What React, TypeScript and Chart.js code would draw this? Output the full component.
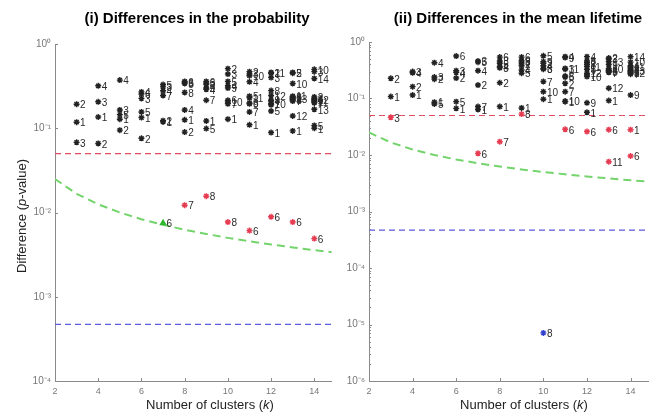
import React, { useEffect, useRef } from 'react';
import { Chart, registerables } from 'chart.js';
Chart.register(...registerables);

type Pt = [number, number, string];

// ---------- data ----------
const kRange = [2, 14.8];
const xTickValues = [2, 4, 6, 8, 10, 12, 14];
const greenK = [2, 3, 4, 5, 6, 7, 8, 9, 10, 11, 12, 13, 14, 15];
const greenP = [0.025, 0.01667, 0.0125, 0.01, 0.00833, 0.00714, 0.00625, 0.00556, 0.005, 0.00455, 0.00417, 0.00385, 0.00357, 0.00333];
const alphaLevel = 0.05;
const strictLevel = 0.00047;

const leftYTicks = [1, 0.1, 0.01, 0.001, 0.0001];
const leftYTickLabels = ['10⁰', '10⁻¹', '10⁻²', '10⁻³', '10⁻⁴'];
const rightYTicks = [1, 0.1, 0.01, 0.001, 0.0001, 0.00001, 0.000001];
const rightYTickLabels = ['10⁰', '10⁻¹', '10⁻²', '10⁻³', '10⁻⁴', '10⁻⁵', '10⁻⁶'];

const leftBlack: Pt[] = [
  [3, 0.193, '2'], [3, 0.118, '1'], [3, 0.068, '3'],
  [4, 0.319, '4'], [4, 0.206, '3'], [4, 0.136, '1'], [4, 0.066, '2'],
  [5, 0.373, '4'], [5, 0.165, '3'], [5, 0.145, '5'], [5, 0.128, '1'], [5, 0.095, '2'],
  [6, 0.27, '4'], [6, 0.255, '6'], [6, 0.226, '3'], [6, 0.156, '5'], [6, 0.134, '1'], [6, 0.076, '2'],
  [7, 0.33, '5'], [7, 0.31, '3'], [7, 0.279, '4'], [7, 0.245, '7'], [7, 0.123, '2'], [7, 0.119, '1'],
  [8, 0.36, '6'], [8, 0.35, '3'], [8, 0.34, '5'], [8, 0.266, '8'], [8, 0.165, '4'], [8, 0.126, '1'], [8, 0.09, '2'],
  [9, 0.36, '6'], [9, 0.345, '3'], [9, 0.33, '2'], [9, 0.3, '9'], [9, 0.29, '4'], [9, 0.215, '7'], [9, 0.122, '1'], [9, 0.099, '5'],
  [10, 0.51, '2'], [10, 0.44, '3'], [10, 0.36, '5'], [10, 0.32, '4'], [10, 0.3, '9'], [10, 0.215, '6'], [10, 0.205, '10'], [10, 0.195, '7'], [10, 0.128, '1'],
  [11, 0.47, '2'], [11, 0.44, '3'], [11, 0.42, '10'], [11, 0.356, '4'], [11, 0.24, '5'], [11, 0.23, '11'], [11, 0.2, '8'], [11, 0.195, '9'], [11, 0.156, '7'], [11, 0.11, '1'],
  [12, 0.46, '2'], [12, 0.45, '11'], [12, 0.4, '3'], [12, 0.28, '8'], [12, 0.245, '12'], [12, 0.215, '9'], [12, 0.21, '4'], [12, 0.195, '10'], [12, 0.19, '7'], [12, 0.16, '5'], [12, 0.089, '1'],
  [13, 0.46, '2'], [13, 0.45, '5'], [13, 0.34, '10'], [13, 0.24, '11'], [13, 0.235, '8'], [13, 0.23, '9'], [13, 0.225, '13'], [13, 0.22, '4'], [13, 0.215, '3'], [13, 0.21, '7'], [13, 0.14, '12'], [13, 0.093, '1'],
  [14, 0.5, '10'], [14, 0.47, '3'], [14, 0.39, '14'], [14, 0.235, '2'], [14, 0.225, '8'], [14, 0.22, '12'], [14, 0.215, '4'], [14, 0.21, '9'], [14, 0.205, '11'], [14, 0.2, '7'], [14, 0.168, '13'], [14, 0.108, '5'], [14, 0.1, '1'],
];
const leftRed: Pt[] = [
  [8, 0.0122, '7'], [9, 0.0156, '8'], [10, 0.0077, '8'], [11, 0.0061, '6'], [12, 0.0089, '6'], [13, 0.0077, '6'], [14, 0.0049, '6'],
];
const leftGreen: Pt[] = [[7, 0.0075, '6']];

const rightBlack: Pt[] = [
  [3, 0.228, '2'], [3, 0.108, '1'],
  [4, 0.3, '3'], [4, 0.285, '4'], [4, 0.162, '2'], [4, 0.115, '1'],
  [5, 0.43, '4'], [5, 0.24, '3'], [5, 0.22, '2'], [5, 0.086, '1'], [5, 0.08, '5'],
  [6, 0.565, '6'], [6, 0.31, '3'], [6, 0.29, '4'], [6, 0.23, '2'], [6, 0.088, '5'], [6, 0.067, '1'],
  [7, 0.46, '3'], [7, 0.44, '5'], [7, 0.31, '4'], [7, 0.173, '2'], [7, 0.072, '7'], [7, 0.064, '1'],
  [8, 0.54, '6'], [8, 0.46, '3'], [8, 0.42, '5'], [8, 0.37, '4'], [8, 0.35, '8'], [8, 0.19, '2'], [8, 0.072, '1'],
  [9, 0.54, '6'], [9, 0.47, '9'], [9, 0.44, '3'], [9, 0.41, '2'], [9, 0.38, '7'], [9, 0.32, '4'], [9, 0.28, '5'], [9, 0.068, '1'],
  [10, 0.57, '5'], [10, 0.45, '9'], [10, 0.42, '2'], [10, 0.38, '4'], [10, 0.34, '6'], [10, 0.33, '3'], [10, 0.2, '7'], [10, 0.132, '10'], [10, 0.097, '1'],
  [11, 0.55, '4'], [11, 0.53, '9'], [11, 0.34, '3'], [11, 0.33, '11'], [11, 0.25, '8'], [11, 0.24, '5'], [11, 0.186, '2'], [11, 0.132, '7'], [11, 0.09, '10'], [11, 0.088, '1'],
  [12, 0.55, '4'], [12, 0.46, '8'], [12, 0.43, '2'], [12, 0.4, '3'], [12, 0.37, '11'], [12, 0.33, '5'], [12, 0.28, '12'], [12, 0.26, '7'], [12, 0.245, '10'], [12, 0.084, '9'], [12, 0.057, '1'],
  [13, 0.52, '2'], [13, 0.5, '3'], [13, 0.45, '13'], [13, 0.4, '9'], [13, 0.34, '10'], [13, 0.32, '4'], [13, 0.31, '8'], [13, 0.3, '5'], [13, 0.29, '7'], [13, 0.152, '12'], [13, 0.092, '1'],
  [14, 0.55, '14'], [14, 0.44, '10'], [14, 0.38, '4'], [14, 0.36, '11'], [14, 0.34, '2'], [14, 0.32, '8'], [14, 0.31, '13'], [14, 0.3, '3'], [14, 0.29, '5'], [14, 0.28, '12'], [14, 0.27, '7'], [14, 0.115, '9'],
];
const rightRed: Pt[] = [
  [3, 0.0465, '3'], [7, 0.0107, '6'], [8, 0.0172, '7'], [9, 0.053, '8'], [11, 0.0285, '6'], [12, 0.026, '6'],
  [13, 0.028, '6'], [13, 0.0076, '11'], [14, 0.028, '1'], [14, 0.0096, '6'],
];
const rightBlue: Pt[] = [[10, 0.0000071, '8']];

// ---------- helpers ----------
const FONT = '"Liberation Sans", Arial, sans-serif';

function pointSet(list: Pt[], color: string, style: string, fill: string, radius: number) {
  return {
    type: 'scatter',
    data: list.map((p) => ({ x: p[0], y: p[1] })),
    pointStyle: style,
    pointRadius: radius,
    pointHoverRadius: radius,
    borderColor: color,
    backgroundColor: fill,
    borderWidth: 1.4,
    showLine: false,
    pointLabels: list.map((p) => p[2]),
    order: 0,
  };
}

function hLine(value: number, color: string, dash: number[], width: number) {
  return {
    type: 'line',
    data: kRange.map((k) => ({ x: k, y: value })),
    borderColor: color,
    borderDash: dash,
    borderWidth: width,
    pointRadius: 0,
    fill: false,
    order: 5,
  };
}

function greenCurve() {
  return {
    type: 'line',
    data: greenK.map((k, i) => ({ x: k, y: greenP[i] })),
    borderColor: '#74d46c',
    borderDash: [8, 5],
    borderWidth: 2,
    pointRadius: 0,
    fill: false,
    order: 4,
  };
}

function drawMixed(ctx: CanvasRenderingContext2D, parts: [string, boolean][], cx: number, cy: number, size: number) {
  let total = 0;
  const widths = parts.map(([t, it]) => {
    ctx.font = `${it ? 'italic ' : ''}${size}px ${FONT}`;
    const w = ctx.measureText(t).width;
    total += w;
    return w;
  });
  let x = cx - total / 2;
  ctx.textAlign = 'left';
  ctx.textBaseline = 'middle';
  parts.forEach(([t, it], i) => {
    ctx.font = `${it ? 'italic ' : ''}${size}px ${FONT}`;
    ctx.fillText(t, x, cy);
    x += widths[i];
  });
}

const decor = {
  id: 'decor',
  afterDatasetsDraw(chart: any) {
    const ctx = chart.ctx as CanvasRenderingContext2D;
    chart.data.datasets.forEach((ds: any, i: number) => {
      if (!ds.pointLabels) return;
      const meta = chart.getDatasetMeta(i);
      ctx.save();
      ctx.font = `10px ${FONT}`;
      ctx.fillStyle = '#2a2a2a';
      ctx.textAlign = 'left';
      ctx.textBaseline = 'middle';
      meta.data.forEach((el: any, j: number) => {
        ctx.fillText(ds.pointLabels[j], el.x + 3.5, el.y + 1.5);
      });
      ctx.restore();
    });
  },
  afterDraw(chart: any, _args: any, opts: any) {
    const ctx = chart.ctx as CanvasRenderingContext2D;
    const ca = chart.chartArea;
    const xs = chart.scales.x;
    const ys = chart.scales.y;
    ctx.save();
    ctx.strokeStyle = '#8a8a8a';
    ctx.lineWidth = 1;
    xTickValues.forEach((v) => {
      const px = Math.round(xs.getPixelForValue(v)) + 0.5;
      ctx.beginPath();
      ctx.moveTo(px, ca.bottom);
      ctx.lineTo(px, ca.bottom - 3);
      ctx.stroke();
    });
    (opts.yTicks as number[]).forEach((v) => {
      const py = Math.round(ys.getPixelForValue(v)) + 0.5;
      ctx.beginPath();
      ctx.moveTo(ca.left, py);
      ctx.lineTo(ca.left + 3, py);
      ctx.stroke();
      if (opts.minor && v < 1) {
        for (let m = 2; m <= 9; m++) {
          const my = Math.round(ys.getPixelForValue(v * m)) + 0.5;
          ctx.beginPath();
          ctx.moveTo(ca.left, my);
          ctx.lineTo(ca.left + 2, my);
          ctx.stroke();
        }
      }
    });
    ctx.fillStyle = '#000';
    ctx.font = `bold 15px ${FONT}`;
    ctx.textAlign = 'center';
    ctx.textBaseline = 'middle';
    ctx.fillText(opts.title, opts.titleX, 19);
    ctx.fillStyle = '#222';
    drawMixed(ctx, [['Number of clusters (', false], ['k', true], [')', false]], opts.xTitleX, 405, 13);
    if (opts.yTitle) {
      ctx.save();
      ctx.translate(22, 216);
      ctx.rotate(-Math.PI / 2);
      drawMixed(ctx, [['Difference (', false], ['p', true], ['-value)', false]], 0, 0, 13);
      ctx.restore();
    }
    ctx.restore();
  },
};

function makeConfig(datasets: any[], yMin: number, yTicks: number[], yLabels: string[], pad: any, yWidth: number, decorOpts: any) {
  return {
    type: 'scatter',
    data: { datasets },
    plugins: [decor],
    options: {
      animation: false,
      responsive: false,
      maintainAspectRatio: false,
      events: [],
      layout: { padding: pad },
      plugins: { legend: { display: false }, tooltip: { enabled: false }, title: { display: false }, decor: decorOpts },
      scales: {
        x: {
          type: 'linear',
          min: kRange[0],
          max: kRange[1],
          afterBuildTicks: (s: any) => { s.ticks = xTickValues.map((v) => ({ value: v })); },
          afterFit: (s: any) => { s.height = 35; },
          grid: { display: true, drawOnChartArea: false, drawTicks: false },
          border: { display: true, color: '#8a8a8a', width: 1 },
          ticks: { color: '#777', font: { size: 9, family: FONT }, padding: 5, maxRotation: 0 },
        },
        y: {
          type: 'logarithmic',
          min: yMin,
          max: 1,
          afterBuildTicks: (s: any) => { s.ticks = yTicks.map((v) => ({ value: v, major: true })); },
          afterFit: (s: any) => { s.width = yWidth; },
          grid: { display: true, drawOnChartArea: false, drawTicks: false },
          border: { display: true, color: '#8a8a8a', width: 1 },
          ticks: {
            color: '#777',
            font: { size: 10, family: FONT },
            padding: 4,
            callback: (_v: any, i: number) => yLabels[i],
          },
        },
      },
    },
  };
}

export default function App() {
  const leftRef = useRef<HTMLCanvasElement>(null);
  const rightRef = useRef<HTMLCanvasElement>(null);

  useEffect(() => {
    const leftSets = [
      pointSet(leftGreen, '#2fb82f', 'triangle', '#2fb82f', 3),
      pointSet(leftRed, '#e63c52', 'star', '#e63c52', 3),
      pointSet(leftBlack, '#222', 'star', '#222', 3),
      hLine(alphaLevel, '#df4f60', [6, 4], 1.2),
      hLine(strictLevel, '#5b5be0', [6, 4], 1.2),
      greenCurve(),
    ];
    const rightSets = [
      pointSet(rightBlue, '#3340d0', 'star', '#3340d0', 3),
      pointSet(rightRed, '#e63c52', 'star', '#e63c52', 3),
      pointSet(rightBlack, '#222', 'star', '#222', 3),
      hLine(alphaLevel, '#df4f60', [6, 4], 1.2),
      hLine(strictLevel, '#5b5be0', [6, 4], 1.2),
      greenCurve(),
    ];
    const left = new Chart(leftRef.current as any, makeConfig(
      leftSets, 0.0001, leftYTicks, leftYTickLabels,
      { left: 0, right: 4, top: 44, bottom: 0 }, 55,
      { title: '(i) Differences in the probability', titleX: 197, xTitleX: 210, yTitle: true, yTicks: leftYTicks, minor: false },
    ) as any);
    const right = new Chart(rightRef.current as any, makeConfig(
      rightSets, 0.000001, rightYTicks, rightYTickLabels,
      { left: 0, right: 14, top: 42, bottom: 0 }, 33,
      { title: '(ii) Differences in the mean lifetime', titleX: 182, xTitleX: 188, yTitle: false, yTicks: rightYTicks, minor: true },
    ) as any);
    return () => { left.destroy(); right.destroy(); };
  }, []);

  return (
    <div style={{ position: 'fixed', left: 0, top: 0, width: 662, height: 416, overflow: 'hidden', background: '#fff' }}>
      <canvas ref={leftRef} width={336} height={416} style={{ position: 'absolute', left: 0, top: 0, width: 336, height: 416 }} />
      <canvas ref={rightRef} width={326} height={416} style={{ position: 'absolute', left: 336, top: 0, width: 326, height: 416 }} />
    </div>
  );
}
